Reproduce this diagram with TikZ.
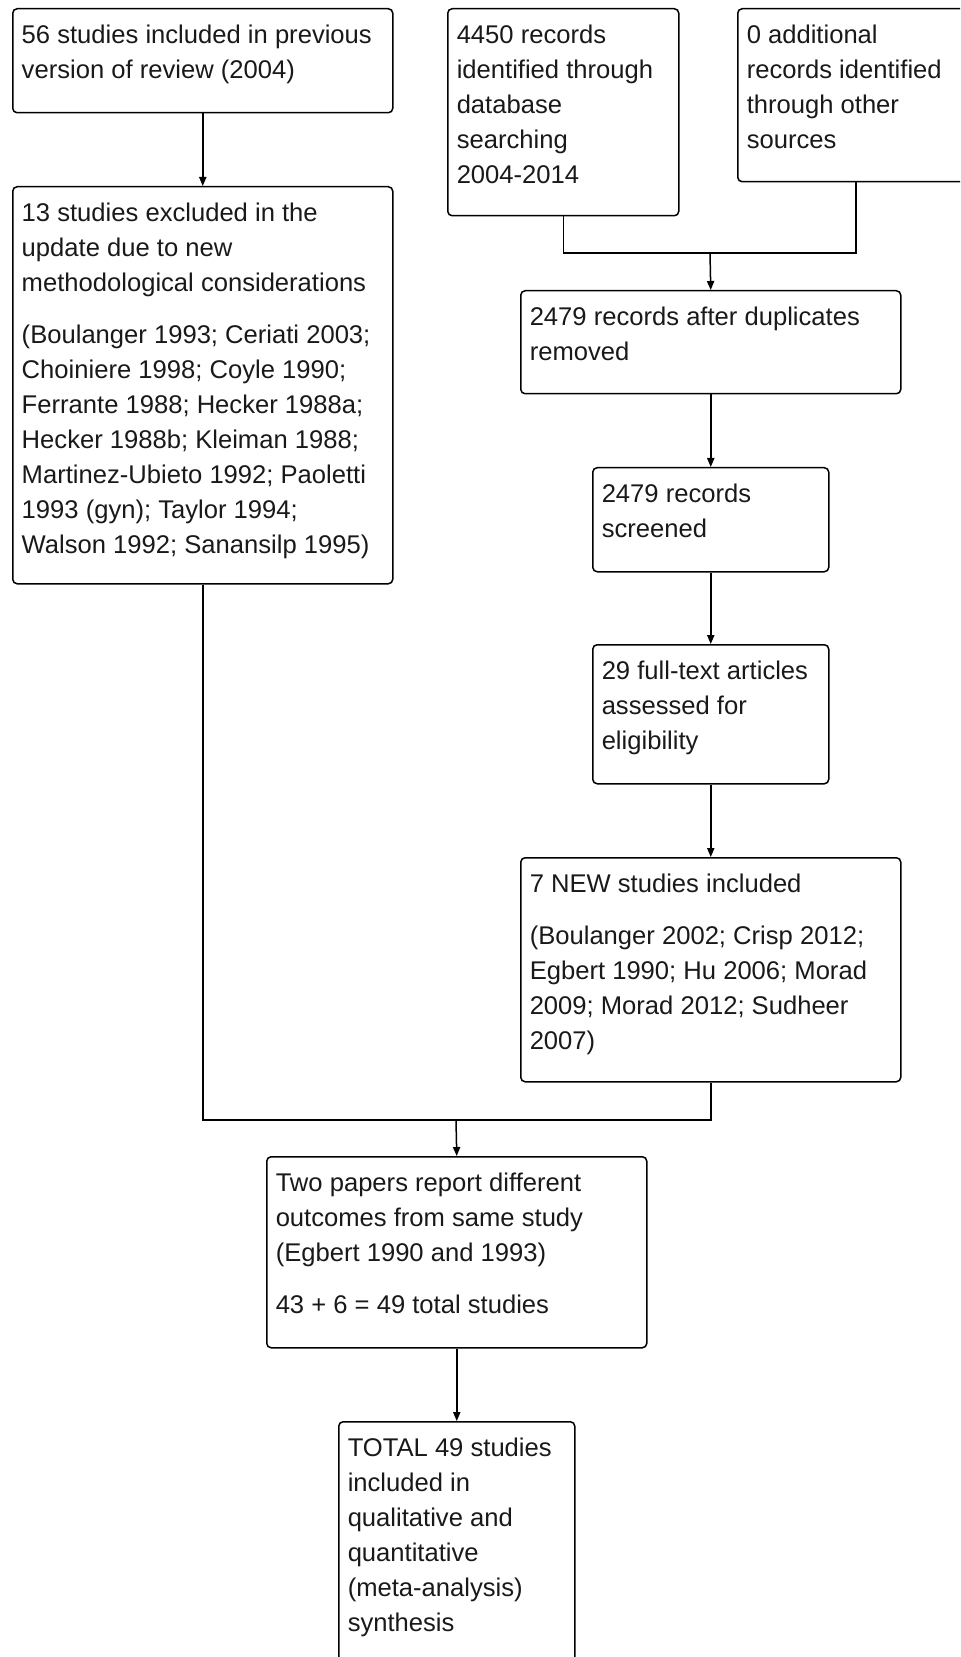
\documentclass[tikz,border=0pt]{standalone}
\usepackage{fontspec}
\setmainfont{Liberation Sans}
\usepackage{tikz}
\usetikzlibrary{arrows.meta}
\newcommand{\flowfont}{\fontsize{12.8pt}{17.5pt}\selectfont}
\newcommand{\BoxText}[3]{%
  \begin{minipage}[t][\dimexpr#2pt/2\relax][t]{\dimexpr#1pt/2\relax}%
    \raggedright\leftskip=4.5pt\rightskip=0pt plus 1fil minus 30pt
    \noindent\rule{0pt}{17.6pt}\ignorespaces#3%
  \end{minipage}}
\tikzset{
  flow box/.style={draw,rounded corners=2.2pt,line width=.75pt,inner sep=0pt,
    anchor=north west,font=\flowfont,text=black!90},
  flow line/.style={line width=.75pt},
  flow arrow/.style={flow line,-{Triangle[length=4.5pt,width=3.6pt]}}
}

\begin{document}
\begin{tikzpicture}[x=.5pt,y=-.5pt,line cap=butt,line join=miter]
  \clip (0,0) rectangle (960,1657);

  \node[flow box] (prev)   at (12,8)     {\BoxText{380}{104}{56 studies included in previous\\
    version of review (2004)}};
  \node[flow box] (excl)   at (12,186)   {\BoxText{380}{397}{13 studies excluded in the\\
    update due to new\\ methodological considerations\\[8.5pt]
    (Boulanger 1993; Ceriati 2003;\\ Choiniere 1998; Coyle 1990;\\
    Ferrante 1988; Hecker 1988a;\\ Hecker 1988b; Kleiman 1988;\\
    Martinez-Ubieto 1992; Paoletti\\ 1993 (gyn); Taylor 1994;\\
    Walson 1992; Sanansilp 1995)}};
  \node[flow box] (db)     at (447,8)    {\BoxText{231}{207}{4450 records\\ identified through\\
    database\\ searching\\ 2004-2014}};
  \node[flow box] (other)  at (737,8)    {\BoxText{236}{173}{0 additional\\ records identified\\
    through other\\ sources}};
  \node[flow box] (dedup)  at (520,290)  {\BoxText{380}{103}{2479 records after duplicates\\
    removed}};
  \node[flow box] (screen) at (592,467)  {\BoxText{236}{104}{2479 records\\ screened}};
  \node[flow box] (full)   at (592,644)  {\BoxText{236}{139}{29 full-text articles\\
    assessed for\\ eligibility}};
  \node[flow box] (newinc) at (520,857)  {\BoxText{380}{224}{7 NEW studies included\\[8.5pt]
    (Boulanger 2002; Crisp 2012;\\ Egbert 1990; Hu 2006; Morad\\
    2009; Morad 2012; Sudheer\\ 2007)}};
  \node[flow box] (dual)   at (266,1156) {\BoxText{380}{191}{Two papers report different\\
    outcomes from same study\\ (Egbert 1990 and 1993)\\[8.5pt]
    43 + 6 = 49 total studies}};
  \node[flow box] (total)  at (338,1421) {\BoxText{236}{290}{TOTAL 49 studies\\ included in\\
    qualitative and\\ quantitative\\ (meta-analysis)\\ synthesis}};

  \coordinate (top join) at (710,253);
  \coordinate (low join) at (456,1120);

  \draw[flow line] (db.south) |- (top join) -| (other.south);
  \draw[flow line] (excl.south) |- (low join) -| (newinc.south);
  \draw[flow arrow] (prev.south) -- (excl.north);
  \draw[flow arrow] (top join) -- (dedup.north);
  \draw[flow arrow] (dedup.south) -- (screen.north);
  \draw[flow arrow] (screen.south) -- (full.north);
  \draw[flow arrow] (full.south) -- (newinc.north);
  \draw[flow arrow] (low join) -- (dual.north);
  \draw[flow arrow] (dual.south) -- (total.north);
\end{tikzpicture}
\end{document}
